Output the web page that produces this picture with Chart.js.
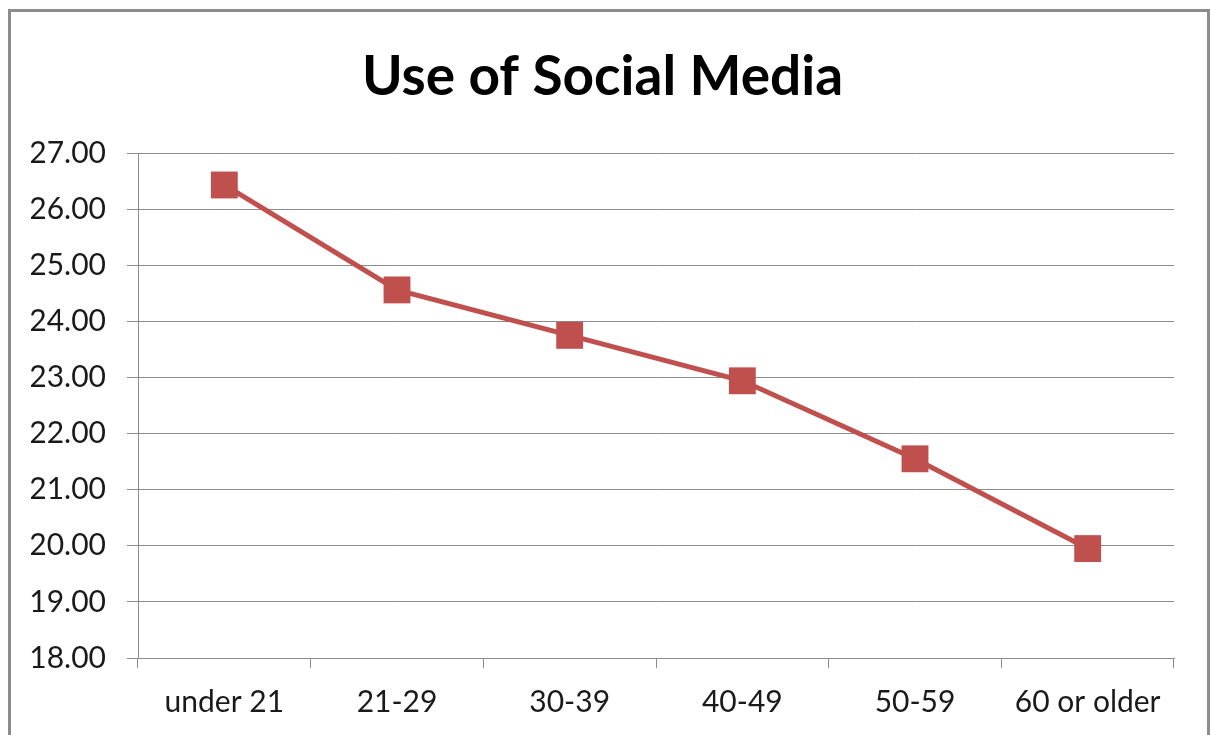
<!DOCTYPE html>
<html>
<head>
<meta charset="utf-8">
<script src="https://cdn.jsdelivr.net/npm/chart.js@4/dist/chart.umd.min.js"></script>
<style>
  body { margin: 0; background: #fff; overflow: hidden; }
  #frame { position: absolute; left: 8px; top: 9px; width: 1196px; height: 760px; border: 3px solid #8c8c8c; border-bottom: none; pointer-events: none; }
  #wrap { position: absolute; left: 0; top: 0; width: 1210px; height: 735px; }
</style>
</head>
<body>
<div id="wrap"><canvas id="myChart" width="1210" height="735"></canvas></div>
<div id="frame"></div>
<script>
const ageGroups = ['under 21', '21-29', '30-39', '40-49', '50-59', '60 or older'];
const socialMediaUse = [26.43, 24.56, 23.75, 22.94, 21.55, 19.95];
const yMin = 18;
const yMax = 27;
const yStep = 1;

const gridGray = '#8c8c8c';
const lineRed = '#c0504d';

var ctx = document.getElementById('myChart').getContext('2d');
var myChart = new Chart(ctx, {
  type: 'line',
  data: {
    labels: ageGroups,
    datasets: [{
      label: 'Use of Social Media',
      data: socialMediaUse,
      borderColor: lineRed,
      backgroundColor: lineRed,
      borderWidth: 5,
      pointStyle: 'rect',
      pointRadius: 19,
      pointHoverRadius: 19,
      pointBorderWidth: 0,
      tension: 0
    }]
  },
  options: {
    responsive: false,
    animation: false,
    // left padding nudges the title toward the frame centre (y labels still fit)
    layout: { padding: { left: 31, right: 36, top: 0, bottom: 0 } },
    plugins: {
      legend: { display: false },
      tooltip: { enabled: false },
      title: {
        display: true,
        text: 'Use of Social Media',
        color: '#000',
        font: { family: 'Lato', size: 55, weight: 'bold', lineHeight: 1.2 },
        padding: { top: 44, bottom: 43 }
      }
    },
    scales: {
      x: {
        offset: true,
        grid: { offset: true, drawOnChartArea: false, drawTicks: true, tickLength: 10, color: gridGray, lineWidth: 1 },
        border: { display: true, color: gridGray, width: 1 },
        ticks: { color: '#1a1a1a', font: { family: 'Lato', size: 30 }, padding: 16, maxRotation: 0 },
        afterFit: function (scale) { scale.height = 77; }
      },
      y: {
        min: yMin,
        max: yMax,
        grid: { color: gridGray, lineWidth: 1, drawTicks: true, tickLength: 11 },
        border: { display: true, color: gridGray, width: 1 },
        ticks: {
          stepSize: yStep,
          color: '#1a1a1a',
          font: { family: 'Lato', size: 30 },
          padding: 21,
          callback: function (value) { return value.toFixed(2); }
        },
        afterFit: function (scale) { scale.width = 107; }
      }
    }
  }
});
</script>
</body>
</html>
